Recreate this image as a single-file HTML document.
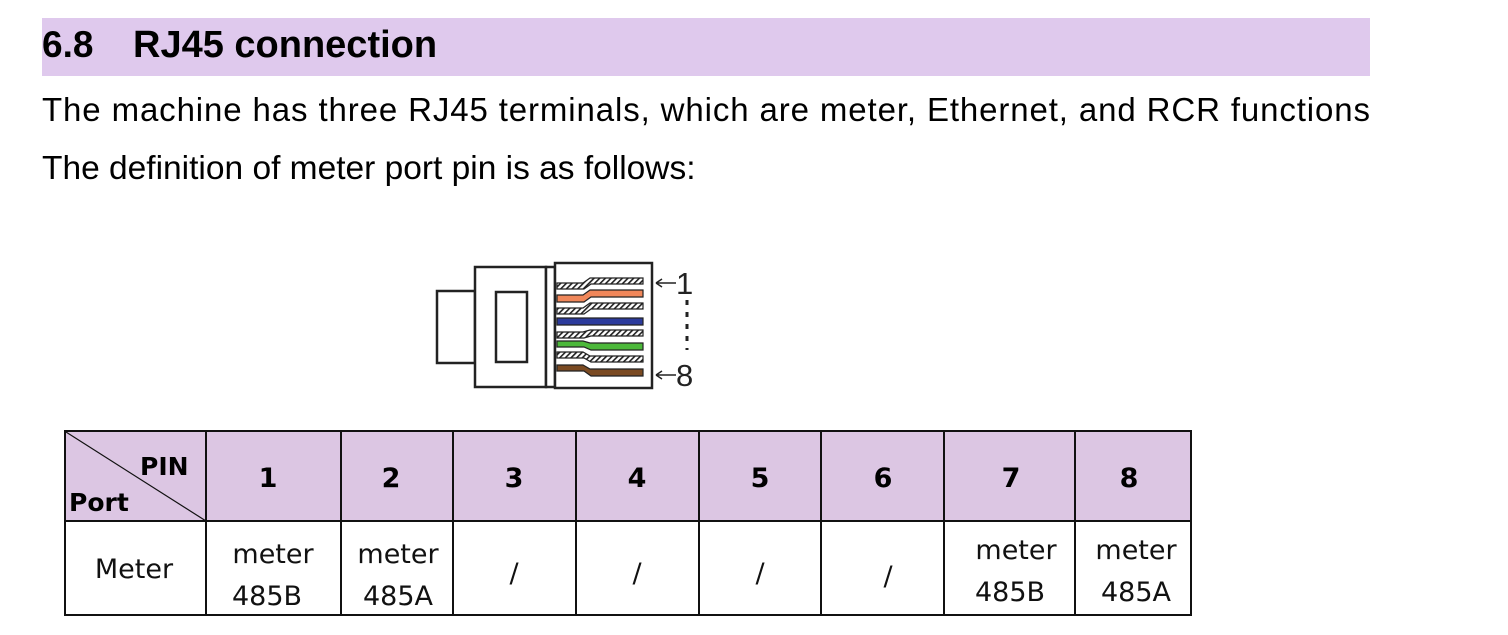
<!DOCTYPE html>
<html><head><meta charset="utf-8"><style>
html,body{margin:0;padding:0;background:#fff;width:1508px;height:635px;overflow:hidden}
svg{display:block}
</style></head><body>
<svg width="1508" height="635" viewBox="0 0 1508 635" xmlns="http://www.w3.org/2000/svg" font-family="Liberation Sans, sans-serif">
<defs>
<pattern id="h" width="4" height="4" patternUnits="userSpaceOnUse" patternTransform="rotate(45)">
<rect width="4" height="4" fill="#fff"/><rect width="1.6" height="4" fill="#222"/>
</pattern>
</defs>
<rect x="42" y="18" width="1328" height="58" fill="#dfc9ed"/>
<text x="42" y="57" font-size="37" font-weight="bold">6.8</text>
<text x="133" y="57" font-size="38" font-weight="bold">RJ45 connection</text>
<text x="42" y="121" font-size="33" textLength="1328" lengthAdjust="spacing">The machine has three RJ45 terminals, which are meter, Ethernet, and RCR functions</text>
<text x="42" y="179" font-size="33.5">The definition of meter port pin is as follows:</text>

<g stroke="#222" stroke-width="2.5" fill="#fff">
<rect x="437" y="291" width="38" height="72"/>
<rect x="475" y="267" width="71" height="120"/>
<rect x="546" y="267" width="9" height="120"/>
<rect x="555" y="263" width="97" height="125"/>
<rect x="496" y="292" width="31" height="70"/>
</g>
<g stroke="#222" stroke-width="1.2">
<path d="M557 283 L583 283 L590 278 L643 278 L643 284 L591 284 L584 289 L557 289Z" fill="url(#h)"/>
<path d="M557 295 L583 295 L590 290 L643 290 L643 297 L591 297 L584 302 L557 302Z" fill="#f0875a"/>
<path d="M557 308 L583 308 L590 303 L643 303 L643 309 L591 309 L584 314 L557 314Z" fill="url(#h)"/>
<path d="M557 318 L643 318 L643 325 L557 325Z" fill="#2c3b9c"/>
<path d="M557 332 L583 332 L590 330 L643 330 L643 336 L591 336 L584 338 L557 338Z" fill="url(#h)"/>
<path d="M557 341 L583 341 L590 343 L643 343 L643 350 L591 350 L584 347 L557 347Z" fill="#4cb83a"/>
<path d="M557 352 L583 352 L590 356 L643 356 L643 362 L591 362 L584 358 L557 358Z" fill="url(#h)"/>
<path d="M557 365 L583 365 L590 369 L643 369 L643 376 L591 376 L584 371 L557 371Z" fill="#7a4a22"/>
</g>
<g stroke="#222" stroke-width="1.5" fill="none">
<path d="M656 283 H676 M656 283 l6 -4 M656 283 l6 4"/>
<path d="M656 375 H676 M656 375 l6 -4 M656 375 l6 4"/>
<path d="M687 300 V350" stroke-width="3" stroke-dasharray="5 7"/>
</g>
<text x="676" y="294" font-size="31" fill="#222">1</text>
<text x="676" y="386" font-size="31" fill="#222">8</text>

<rect x="65" y="431" width="1126" height="90" fill="#dcc6e3"/>
<g stroke="#111" stroke-width="2" fill="none">
<rect x="65" y="431" width="1126" height="184"/>
<line x1="65" y1="521" x2="1191" y2="521"/>
<line x1="206" y1="431" x2="206" y2="615"/><line x1="341" y1="431" x2="341" y2="615"/>
<line x1="453" y1="431" x2="453" y2="615"/><line x1="576" y1="431" x2="576" y2="615"/>
<line x1="699" y1="431" x2="699" y2="615"/><line x1="821" y1="431" x2="821" y2="615"/>
<line x1="944" y1="431" x2="944" y2="615"/><line x1="1075" y1="431" x2="1075" y2="615"/>
<line x1="66" y1="432" x2="206" y2="521" stroke-width="1.2"/>
</g>
<g font-size="27" font-weight="bold" font-family="DejaVu Sans, sans-serif">
<text x="140" y="475" font-size="25">PIN</text>
<text x="69" y="511" font-size="25">Port</text>
<g text-anchor="middle">
<text x="268" y="487">1</text><text x="391" y="487">2</text><text x="514" y="487">3</text>
<text x="637" y="487">4</text><text x="760" y="487">5</text><text x="883" y="487">6</text>
<text x="1011" y="487">7</text><text x="1129" y="487">8</text>
</g></g>
<g font-size="27" text-anchor="middle" fill="#111" font-family="DejaVu Sans, sans-serif">
<text x="134" y="578">Meter</text>
<text x="273" y="563">meter</text><text x="267" y="605">485B</text>
<text x="398" y="563">meter</text><text x="398" y="605">485A</text>
<text x="1016" y="559">meter</text><text x="1010" y="601">485B</text>
<text x="1136" y="559">meter</text><text x="1136" y="601">485A</text>
<text x="514" y="582">/</text><text x="637" y="582">/</text><text x="760" y="582">/</text><text x="888" y="585">/</text>
</g>
</svg>
</body></html>
